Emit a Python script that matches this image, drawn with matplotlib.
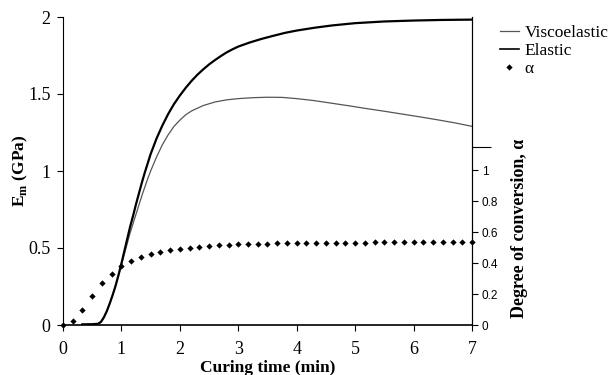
import numpy as np
import matplotlib
matplotlib.use("Agg")
import matplotlib.pyplot as plt
from matplotlib.lines import Line2D

plt.rcParams["mathtext.fontset"] = "custom"
plt.rcParams["mathtext.bf"] = "Liberation Serif:bold"
plt.rcParams["mathtext.rm"] = "Liberation Serif"

# ---- data ----
t_elastic = [0.33, 0.5, 0.6, 0.65, 0.7, 0.75, 0.8, 0.85, 0.9, 0.95, 1.0, 1.05, 1.1, 1.15,
             1.2, 1.25, 1.3, 1.35, 1.4, 1.45, 1.5, 1.6, 1.7, 1.8, 1.9, 2.0, 2.1, 2.2,
             2.3, 2.4, 2.5, 2.6, 2.7, 2.8, 2.9, 3.0, 3.2, 3.4, 3.6, 3.8, 4.0, 4.3,
             4.6, 5.0, 5.5, 6.0, 6.5, 7.0]
E_elastic = [0.004, 0.005, 0.008, 0.02, 0.05, 0.09, 0.14, 0.195, 0.255, 0.325, 0.40, 0.48,
             0.56, 0.64, 0.71, 0.785, 0.855, 0.925, 0.99, 1.05, 1.11, 1.21, 1.295, 1.37,
             1.435, 1.49, 1.54, 1.585, 1.625, 1.66, 1.692, 1.72, 1.746, 1.77, 1.79,
             1.808, 1.835, 1.858, 1.878, 1.897, 1.912, 1.93, 1.945, 1.96, 1.971, 1.977,
             1.981, 1.983]

t_visco = [0.33, 0.5, 0.6, 0.65, 0.7, 0.75, 0.8, 0.85, 0.9, 0.95, 1.0, 1.05, 1.1, 1.15,
           1.2, 1.25, 1.3, 1.35, 1.4, 1.45, 1.5, 1.6, 1.7, 1.8, 1.9, 2.0, 2.1, 2.2,
           2.4, 2.6, 2.8, 3.0, 3.25, 3.5, 3.75, 4.0, 4.3, 4.6, 4.9, 5.2, 5.5, 5.8,
           6.1, 6.4, 6.7, 7.0]
E_visco = [0.004, 0.005, 0.008, 0.02, 0.05, 0.09, 0.14, 0.195, 0.255, 0.32, 0.39, 0.46,
           0.53, 0.60, 0.66, 0.72, 0.78, 0.84, 0.895, 0.95, 1.0, 1.09, 1.17, 1.235,
           1.29, 1.33, 1.365, 1.39, 1.425, 1.448, 1.462, 1.47, 1.476, 1.479, 1.478,
           1.47, 1.457, 1.44, 1.423, 1.405, 1.388, 1.37, 1.352, 1.333, 1.313, 1.29]

t_alpha = [i / 6 for i in range(43)]
alpha = [0.0, 0.028, 0.10, 0.19, 0.27, 0.33, 0.38, 0.414, 0.44, 0.458, 0.47, 0.485,
         0.494, 0.50, 0.505, 0.512, 0.516, 0.519, 0.521, 0.523, 0.525, 0.526, 0.527,
         0.528, 0.529, 0.530, 0.531, 0.531, 0.532, 0.532, 0.533, 0.533, 0.534, 0.534,
         0.535, 0.535, 0.535, 0.536, 0.536, 0.536, 0.537, 0.537, 0.537]

x_ticks = [0, 1, 2, 3, 4, 5, 6, 7]
y_ticks = [0, 0.5, 1, 1.5, 2]
y_ticklabels = ["0", "0.5", "1", "1.5", "2"]
a_ticks = [0, 0.2, 0.4, 0.6, 0.8, 1]
a_ticklabels = ["0", "0.2", "0.4", "0.6", "0.8", "1"]

serif = "Liberation Serif"
sans = "Liberation Sans"

fig = plt.figure(figsize=(6.15, 3.75), dpi=100)
W, H = 615, 375
left, right, bottom, top = 63, 472, 325, 17
ax = fig.add_axes([left / W, 1 - bottom / H, (right - left) / W, (bottom - top) / H])

ax.plot(t_visco, E_visco, color="#555555", lw=0.9)
ax.plot(t_elastic, E_elastic, color="black", lw=1.6)

ax.set_xlim(0, 7)
ax.set_ylim(0, 2)
ax.set_xticks(x_ticks)
ax.set_xticklabels([str(v) for v in x_ticks], fontfamily=serif, fontsize=13)
ax.set_yticks(y_ticks)
ax.set_yticklabels(y_ticklabels, fontfamily=serif, fontsize=13)
ax.tick_params(axis="x", direction="out", length=4, width=0.8, pad=7.5)
ax.tick_params(axis="y", direction="out", length=4, width=0.8, pad=5)
ax.spines["top"].set_visible(False)
ax.spines["right"].set_linewidth(0.8)
ax.spines["left"].set_linewidth(0.8)
ax.spines["bottom"].set_linewidth(1.2)

fig.text(268 / W, 1 - 367.5 / H, "Curing time (min)", ha="center", va="center",
         fontfamily=serif, fontsize=12.5, fontweight="bold")
fig.text(20 / W, 1 - 171 / H, r"E$_{\mathbf{m}}$ (GPa)", rotation=90, ha="center",
         va="center", fontfamily=serif, fontsize=12.5, fontweight="bold")

ax2 = ax.twinx()
ax2.plot(t_alpha, alpha, linestyle="none", marker="D", markersize=3.2,
         markeredgewidth=0, color="black", clip_on=False, zorder=5)
ax2.set_ylim(0, 1.99)
ax2.set_yticks(a_ticks)
ax2.set_yticklabels(a_ticklabels, fontfamily=sans, fontsize=8.5)
ax2.set_yticks([1.15], minor=True)
ax2.tick_params(axis="y", which="major", direction="out", length=4, width=0.8, pad=3)
ax2.tick_params(axis="y", which="minor", direction="out", length=14, width=0.8)
ax2.spines["top"].set_visible(False)
ax2.spines["left"].set_visible(False)
ax2.spines["bottom"].set_visible(False)
ax2.spines["right"].set_linewidth(0.8)

fig.text(519 / W, 1 - 228 / H, "Degree of conversion, α", rotation=90,
         ha="center", va="center", fontfamily=serif, fontsize=13, fontweight="bold")

handles = [Line2D([], [], color="#555555", lw=0.9),
           Line2D([], [], color="black", lw=1.2),
           Line2D([], [], linestyle="none", marker="D", markersize=3.2,
                  markeredgewidth=0, color="black")]
labels = ["Viscoelastic", "Elastic", "α"]
fig.legend(handles, labels, loc="upper left", bbox_to_anchor=(491 / W, 1 - 16 / H),
           frameon=False, prop={"family": serif, "size": 12.5}, handlelength=1.1,
           handletextpad=0.35, labelspacing=0.12, borderpad=0, numpoints=1)

fig.savefig("out.png", dpi=100)
